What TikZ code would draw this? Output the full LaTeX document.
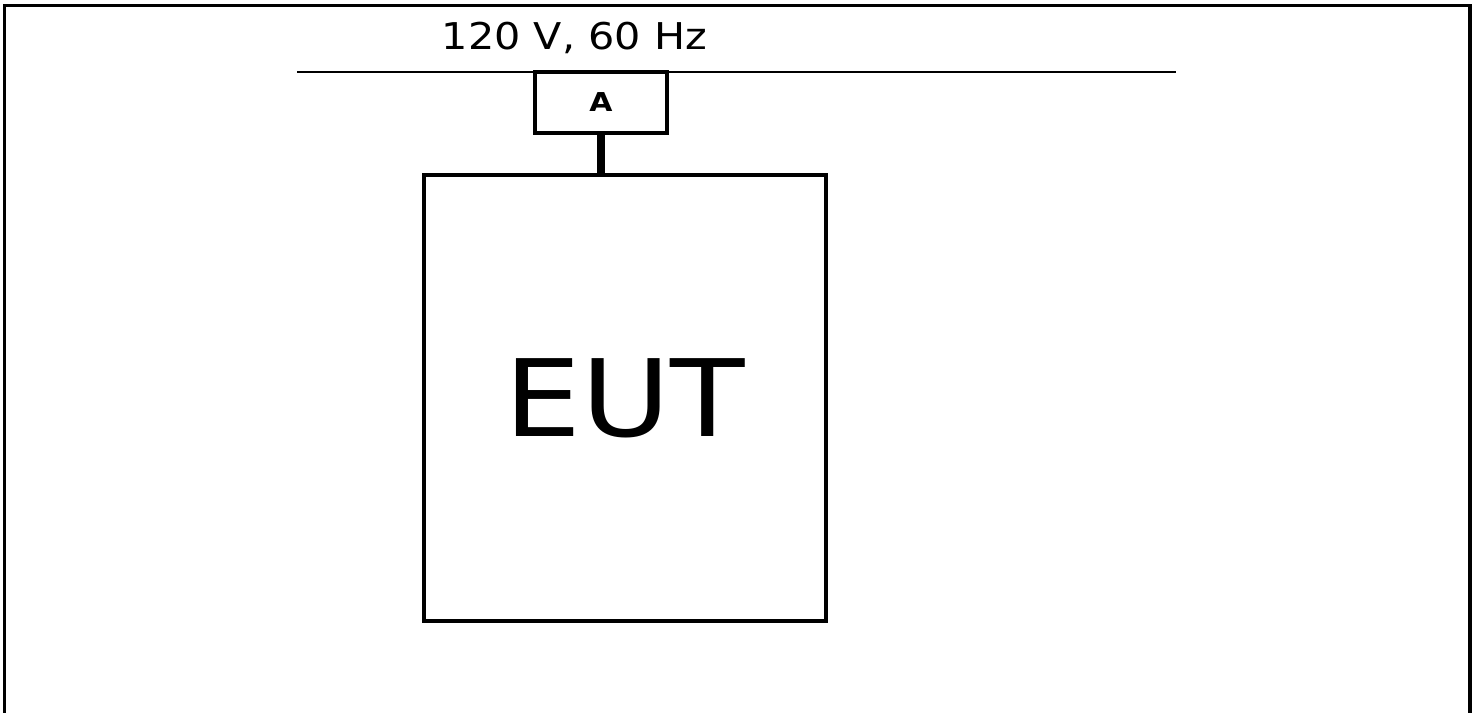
\documentclass[tikz,border=0pt]{standalone}
\usepackage{fontspec}
\setmainfont{DejaVu Sans}
\usetikzlibrary{positioning}

\begin{document}
\begin{tikzpicture}[x=1cm,y=1cm,
      box/.style={draw,line width=1pt,inner sep=0pt},
      stem/.style={line width=2.5pt}]
      \useasboundingbox (0,0) rectangle (14.77,-7.12);
      % outer frame, open at the bottom
      \draw[line width=1pt] (.045,-7.3) -- (.045,-.055) -- (14.70,-.055) -- (14.70,-7.3);
      % supply line
      \coordinate (busL) at (2.97,-.72);
      \coordinate (busR) at (11.76,-.72);
      \draw[line width=.5pt] (busL) -- (busR);
      \node[anchor=base,font=\fontsize{10.5}{12}\selectfont] (supply) at (5.745,-.49) {\scalebox{1.12}[1]{120 V, 60 Hz}};
      \node[box,fill=white,minimum width=1.32cm,minimum height=.61cm,font=\fontsize{7.4}{8}\selectfont\bfseries] (meter) at (6.01,-1.025) {\scalebox{1.15}[1]{A}};
      \node[box,minimum width=4.02cm,minimum height=4.46cm,font=\fontsize{30.4}{36}\selectfont] (eut) at (6.25,-3.98) {\scalebox{1.14}[1]{EUT}};
      \draw[stem] (meter.south) -- (meter.south |- eut.north);
    \end{tikzpicture}
\end{document}
